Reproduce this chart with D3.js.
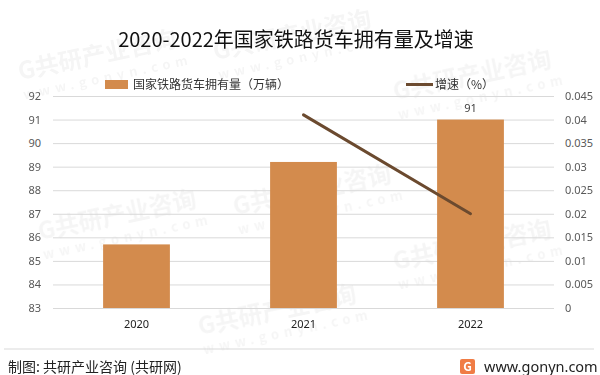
<!DOCTYPE html>
<html>
<head>
<meta charset="utf-8">
<script src="https://cdn.jsdelivr.net/npm/d3@7"></script>
<style>
  body { margin: 0; background: #fff; }
  svg { display: block; font-family: "Noto Sans CJK SC", "Noto Sans", sans-serif; }
</style>
</head>
<body>
<div id="chart"></div>
<script>
// data
const years = ['2020', '2021', '2022'];
const wagons = [85.7, 89.2, 91];          // 国家铁路货车拥有量（万辆）
const growthYears = ['2021', '2022'];
const growth = [0.041, 0.02];             // 增速（%）
const leftTicks = [83, 84, 85, 86, 87, 88, 89, 90, 91, 92];
const rightTicks = [0, 0.005, 0.01, 0.015, 0.02, 0.025, 0.03, 0.035, 0.04, 0.045];
const labelled = ['2022'];

const width = 600, height = 375;
const margin = { top: 96, right: 46, bottom: 67, left: 53 };

const svg = d3.select('#chart').append('svg')
  .attr('width', width)
  .attr('height', height);

// faint watermarks, kept inside the picture
const wm = svg.append('g').attr('fill', '#000').attr('opacity', 0.04)
  .attr('font-weight', 'bold');
[[20, 80], [215, 60], [395, 100], [40, 240], [235, 215], [395, 270], [200, 335]].forEach(p => {
  const g = wm.append('g').attr('transform', 'translate(' + p[0] + ',' + p[1] + ') rotate(-12)');
  g.append('text').attr('font-size', 24).text('G共研产业咨询');
  g.append('text').attr('y', 20).attr('font-size', 13).attr('letter-spacing', 5).text('www.gonyn.com');
});

const plotW = width - margin.left - margin.right;
const plotH = height - margin.top - margin.bottom;
const chart = svg.append('g')
  .attr('transform', 'translate(' + margin.left + ',' + margin.top + ')');

const x = d3.scaleBand().domain(years).range([0, plotW]).paddingInner(0.6).paddingOuter(0.3);
const xc = d3.scaleBand().domain(years).range([0, plotW]);
const yL = d3.scaleLinear().domain([83, 92]).range([plotH, 0]);
const yR = d3.scaleLinear().domain([0, 0.045]).range([plotH, 0]);

// gridlines
chart.append('g')
  .call(d3.axisLeft(yL).tickValues(leftTicks).tickSize(-plotW).tickFormat(''))
  .call(g => g.select('.domain').remove())
  .call(g => g.selectAll('line').attr('stroke', '#d9d9d9'));

// left axis labels
chart.append('g')
  .call(d3.axisLeft(yL).tickValues(leftTicks).tickSize(0).tickPadding(12).tickFormat(d3.format('d')))
  .call(g => g.select('.domain').remove())
  .call(g => g.selectAll('text').attr('fill', '#595959').attr('font-size', 11)
    .attr('font-family', '"Noto Sans", sans-serif'));

// right axis labels
chart.append('g')
  .attr('transform', 'translate(' + plotW + ',0)')
  .call(d3.axisRight(yR).tickValues(rightTicks).tickSize(0).tickPadding(11).tickFormat(d => String(+d.toFixed(3))))
  .call(g => g.select('.domain').remove())
  .call(g => g.selectAll('text').attr('fill', '#595959').attr('font-size', 11)
    .attr('font-family', '"Noto Sans", sans-serif'));

// x axis labels
chart.append('g')
  .attr('transform', 'translate(0,' + plotH + ')')
  .call(d3.axisBottom(xc).tickSize(0).tickPadding(12))
  .call(g => g.select('.domain').remove())
  .call(g => g.selectAll('text').attr('fill', '#222').attr('font-size', 11)
    .attr('font-family', '"Noto Sans", sans-serif'));

// bars
chart.selectAll('.bar').data(years).enter().append('rect')
  .attr('class', 'bar')
  .attr('x', d => x(d))
  .attr('width', x.bandwidth())
  .attr('y', (d, i) => yL(wagons[i]))
  .attr('height', (d, i) => plotH - yL(wagons[i]))
  .attr('fill', '#d38b4d');

// bar labels
chart.selectAll('.blabel').data(years.filter(d => labelled.includes(d))).enter().append('text')
  .attr('x', d => x(d) + x.bandwidth() / 2)
  .attr('y', d => yL(wagons[years.indexOf(d)]) - 8)
  .attr('text-anchor', 'middle')
  .attr('font-size', 11)
  .attr('font-family', '"Noto Sans", sans-serif')
  .attr('fill', '#404040')
  .text(d => wagons[years.indexOf(d)]);

// growth line
const line = d3.line()
  .x((d, i) => xc(growthYears[i]) + xc.bandwidth() / 2)
  .y(d => yR(d));
chart.append('path')
  .datum(growth)
  .attr('d', line)
  .attr('fill', 'none')
  .attr('stroke', '#6b4a2f')
  .attr('stroke-width', 3)
  .attr('stroke-linecap', 'round');

// title
svg.append('text')
  .attr('x', 296).attr('y', 47)
  .attr('text-anchor', 'middle')
  .attr('font-size', 20)
  .attr('fill', '#111')
  .text('2020-2022年国家铁路货车拥有量及增速');

// legend
const legend = svg.append('g').attr('font-size', 12).attr('fill', '#333');
legend.append('rect').attr('x', 105).attr('y', 80).attr('width', 23).attr('height', 9).attr('fill', '#d38b4d');
legend.append('text').attr('x', 133).attr('y', 89).attr('fill', '#333').text('国家铁路货车拥有量（万辆）');
legend.append('line').attr('x1', 406).attr('x2', 433).attr('y1', 84.5).attr('y2', 84.5)
  .attr('stroke', '#6b4a2f').attr('stroke-width', 3);
legend.append('text').attr('x', 435).attr('y', 89).attr('fill', '#333').text('增速（%）');

// footer
svg.append('line').attr('x1', 4).attr('x2', 594).attr('y1', 349).attr('y2', 349)
  .attr('stroke', '#d9d9d9');
svg.append('text').attr('x', 8).attr('y', 372).attr('font-size', 14).attr('fill', '#222')
  .text('制图: 共研产业咨询 (共研网)');
const logo = svg.append('g').attr('transform', 'translate(460,359)');
logo.append('rect').attr('width', 15).attr('height', 15).attr('rx', 2).attr('fill', '#f07c45');
logo.append('text').attr('x', 7.5).attr('y', 12).attr('text-anchor', 'middle')
  .attr('font-size', 12).attr('font-weight', 'bold').attr('fill', '#fff').text('G');
svg.append('text').attr('x', 484).attr('y', 372).attr('font-size', 14.5)
  .attr('font-family', '"Noto Sans", sans-serif').attr('fill', '#222')
  .text('www.gonyn.com');
</script>
</body>
</html>
